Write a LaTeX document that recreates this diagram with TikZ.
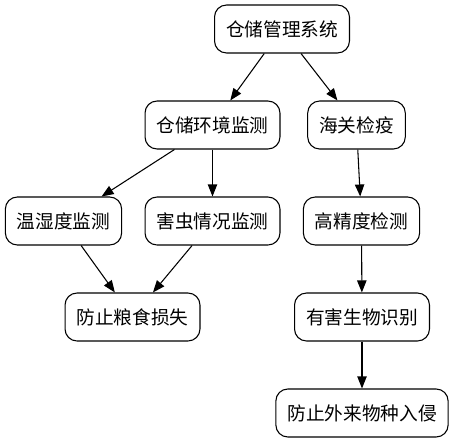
\documentclass[tikz,border=0pt]{standalone}
\usepackage{fontspec}
\newfontfamily\cjk{Noto Sans CJK SC}
\usepackage{tikz}
\usetikzlibrary{positioning, arrows.meta}

\begin{document}
\begin{tikzpicture}[
    x=0.75pt, y=-0.75pt,
    >={Triangle[length=9pt, width=7pt]},
    box/.style={draw, rounded corners=9pt, minimum height=36pt, inner xsep=8.6pt, line width=0.8pt, font=\cjk\fontsize{14pt}{16pt}\selectfont},
    link/.style={->, line width=0.8pt}
]
\useasboundingbox (0,0) rectangle (454,443);

% Blocchi principali
\node[box] (sys) at (282,29) {仓储管理系统};
\node[box] (env) at (212.5,125) {仓储环境监测};
\node[box] (cus) at (356.5,125) {海关检疫};
\node[box] (hum) at (63.5,221) {温湿度监测};
\node[box] (pest) at (212.5,221) {害虫情况监测};
\node[box] (prec) at (361.5,221) {高精度检测};
\node[box] (loss) at (132.5,317) {防止粮食损失};
\node[box] (ident) at (362,317) {有害生物识别};
\node[box] (inv) at (362,413) {防止外来物种入侵};

% Frecce di collegamento
\draw[link] (sys) -- (env);
\draw[link] (sys) -- (cus);
\draw[link] (env) -- (hum);
\draw[link] (env) -- (pest);
\draw[link] (cus) -- (prec);
\draw[link] (hum) -- (loss);
\draw[link] (pest) -- (loss);
\draw[link] (prec) -- (ident);
\draw[link] (ident) -- (inv);

\end{tikzpicture}
\end{document}
